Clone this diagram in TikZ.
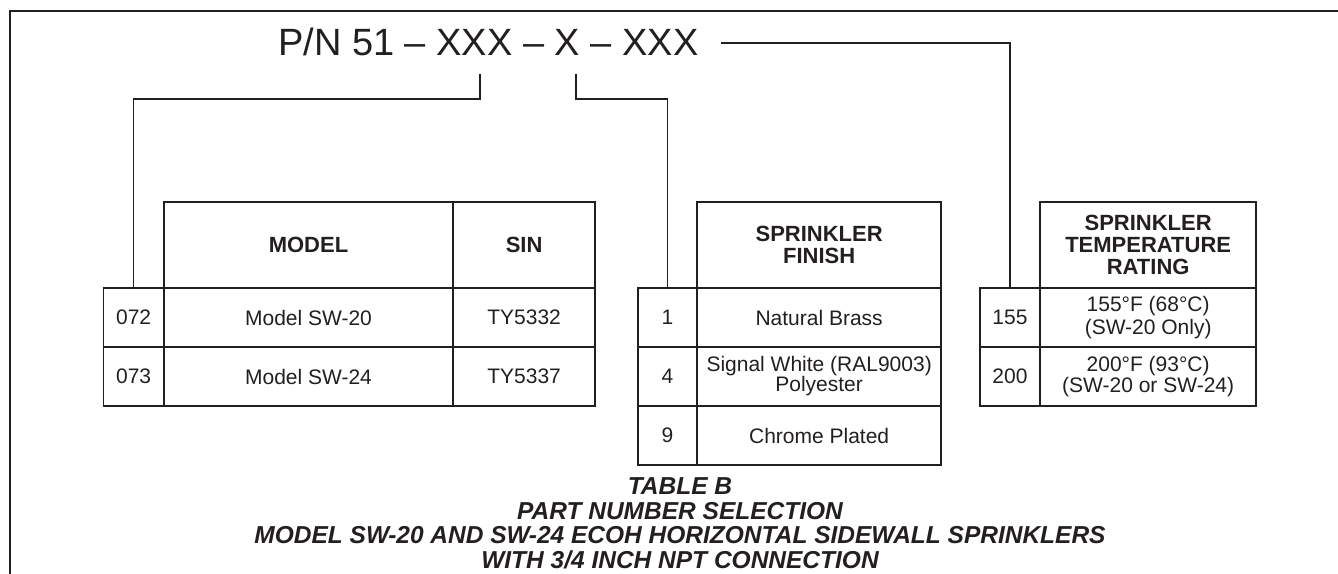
\documentclass[tikz,border=0pt]{standalone}
\usepackage{fontspec}
\setmainfont{Liberation Sans}
\definecolor{ink}{RGB}{35,31,32}
\tikzset{
  cell/.style={draw=ink, line width=1.9pt, anchor=north west, inner sep=0pt, outer sep=0pt,
    align=center, text=ink, font=\fontsize{21}{21.5}\selectfont},
  hcell/.style={cell, font=\bfseries\fontsize{22}{22.3}\selectfont},
  wire/.style={draw=ink, line width=1.6pt},
  frame/.style={draw=ink, line width=2.6pt},
  captext/.style={anchor=base, inner sep=0pt, text=ink, font=\bfseries\itshape\fontsize{24.5}{24.7}\selectfont}
}
\begin{document}
\begin{tikzpicture}[x=1pt,y=-1pt]
\useasboundingbox (0,0) rectangle (1338,573);
% frame (top and left edges)
\draw[frame] (10,580) -- (10,11) -- (1345,11);
% title
\node[anchor=base west, inner sep=0pt, text=ink, font=\fontsize{38}{40}\selectfont] (title) at (278,55) {P/N 51 – XXX – X – XXX};
\coordinate (a1) at (480,74);
\coordinate (a2) at (576,74);
\coordinate (a3) at (721,43);
% left table
\node[hcell, minimum width=289.6, minimum height=86] (hmodel) at (163.7,202) {MODEL};
\node[hcell, minimum width=141.7, minimum height=86] (hsin) at (453.3,202) {SIN};
\node[cell, minimum width=60.2, minimum height=59] (n072) at (103.5,288) {072};
\node[cell, minimum width=289.6, minimum height=59] (m20) at (163.7,288) {Model SW-20};
\node[cell, minimum width=141.7, minimum height=59] (s20) at (453.3,288) {TY5332};
\node[cell, minimum width=60.2, minimum height=59] (n073) at (103.5,347) {073};
\node[cell, minimum width=289.6, minimum height=59] (m24) at (163.7,347) {Model SW-24};
\node[cell, minimum width=141.7, minimum height=59] (s24) at (453.3,347) {TY5337};
% middle table
\node[hcell, minimum width=243.7, minimum height=86] (hfin) at (697.3,202) {SPRINKLER\\FINISH};
\node[cell, minimum width=59.6, minimum height=59] (n1) at (637.7,288) {1};
\node[cell, minimum width=243.7, minimum height=59] (f1) at (697.3,288) {Natural Brass};
\node[cell, minimum width=59.6, minimum height=59] (n4) at (637.7,347) {4};
\node[cell, minimum width=243.7, minimum height=59, font=\fontsize{21}{20}\selectfont] (f4) at (697.3,347) {Signal White (RAL9003)\\Polyester};
\node[cell, minimum width=59.6, minimum height=59] (n9) at (637.7,406) {9};
\node[cell, minimum width=243.7, minimum height=59] (f9) at (697.3,406) {Chrome Plated};
% right table
\node[hcell, minimum width=216.3, minimum height=86] (htemp) at (1040,202) {SPRINKLER\\TEMPERATURE\\RATING};
\node[cell, minimum width=60, minimum height=59] (n155) at (980,288) {155};
\node[cell, minimum width=216.3, minimum height=59, font=\fontsize{21}{22.3}\selectfont] (t155) at (1040,288) {155°F (68°C)\\(SW-20 Only)};
\node[cell, minimum width=60, minimum height=59] (n200) at (980,347) {200};
\node[cell, minimum width=216.3, minimum height=59, font=\fontsize{21}{20.5}\selectfont] (t200) at (1040,347) {200°F (93°C)\\(SW-20 or SW-24)};
% connectors
\draw[wire] (a1) -- ++(0,25) -| (n072.north);
\draw[wire] (a2) -- ++(0,25) -| (n1.north);
\draw[wire] (a3) -| (n155.north);
% caption
\node[captext] (cap1) at (680,494.5) {TABLE B};
\node[captext] (cap2) at (680,519.2) {PART NUMBER SELECTION};
\node[captext] (cap3) at (680,543.9) {MODEL SW-20 AND SW-24 ECOH HORIZONTAL SIDEWALL SPRINKLERS};
\node[captext] (cap4) at (680,568.6) {WITH 3/4 INCH NPT CONNECTION};
\end{tikzpicture}
\end{document}
